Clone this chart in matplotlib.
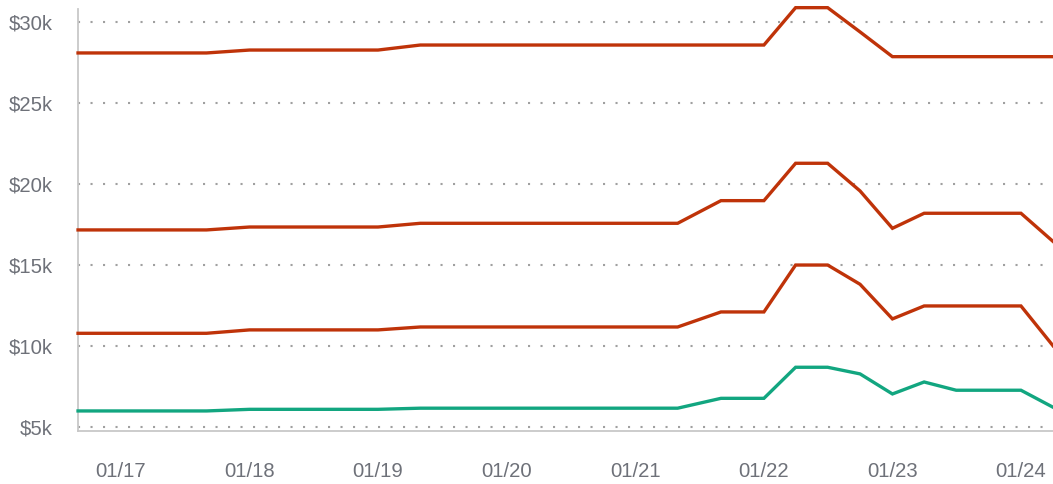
import numpy as np
import pandas as pd
import matplotlib
matplotlib.use("Agg")
import matplotlib.pyplot as plt
import matplotlib.dates as mdates
from matplotlib.ticker import FuncFormatter

# change points of the series (month starts)
dates = pd.to_datetime([
    "2016-09-01", "2017-09-01", "2018-01-01", "2019-01-01", "2019-05-01",
    "2021-05-01", "2021-09-01", "2022-01-01", "2022-04-01", "2022-07-01",
    "2022-10-01", "2023-01-01", "2023-04-01", "2023-07-01", "2024-01-01",
    "2024-04-01",
])

# values in $k
top_line = [28.10, 28.10, 28.28, 28.28, 28.59, 28.59, 28.59, 28.59, 30.90, 30.90,
            29.40, 27.87, 27.87, 27.87, 27.87, 27.87]
second_line = [17.16, 17.16, 17.34, 17.34, 17.57, 17.57, 18.97, 18.97, 21.28, 21.28,
               19.57, 17.26, 18.19, 18.19, 18.19, 16.45]
third_line = [10.77, 10.77, 10.98, 10.98, 11.16, 11.16, 12.09, 12.09, 14.99, 14.99,
              13.80, 11.66, 12.46, 12.46, 12.46, 10.0]
green_line = [5.97, 5.97, 6.07, 6.07, 6.14, 6.14, 6.75, 6.75, 8.67, 8.67,
              8.26, 7.02, 7.76, 7.25, 7.25, 6.20]

yticks = [5, 10, 15, 20, 25, 30]

red = "#bf3309"
green = "#12a680"
grey_txt = "#6e7179"

plt.rcParams["font.family"] = ["Liberation Sans", "DejaVu Sans"]

fig = plt.figure(figsize=(10.53, 4.84), dpi=100)
ax = fig.add_axes([0.0741, 0.1095, 0.9259, 0.872])

for vals, col in [(top_line, red), (second_line, red), (third_line, red), (green_line, green)]:
    ax.plot(dates, vals, color=col, lw=2.4, clip_on=False, solid_joinstyle="miter", zorder=3)

ax.set_xlim(pd.Timestamp("2016-09-01"), pd.Timestamp("2024-04-01"))
ax.set_ylim(4.73, 30.82)

ax.set_yticks(yticks)
ax.yaxis.set_major_formatter(FuncFormatter(lambda v, p: "${:.0f}k".format(v)))
ax.xaxis.set_major_locator(mdates.YearLocator())
ax.xaxis.set_major_formatter(mdates.DateFormatter("%m/%y"))

ax.tick_params(axis="both", length=0, labelsize=14.6, labelcolor=grey_txt)
ax.tick_params(axis="y", pad=18)
ax.tick_params(axis="x", pad=22)

ax.grid(axis="y", color="#a0a0a0", lw=1.5, linestyle=(0, (1, 5)))
ax.set_axisbelow(True)

for s in ["top", "right"]:
    ax.spines[s].set_visible(False)
for s in ["left", "bottom"]:
    ax.spines[s].set_color("#c8c8c8")
    ax.spines[s].set_linewidth(1.3)

fig.savefig("out.png", dpi=100)
